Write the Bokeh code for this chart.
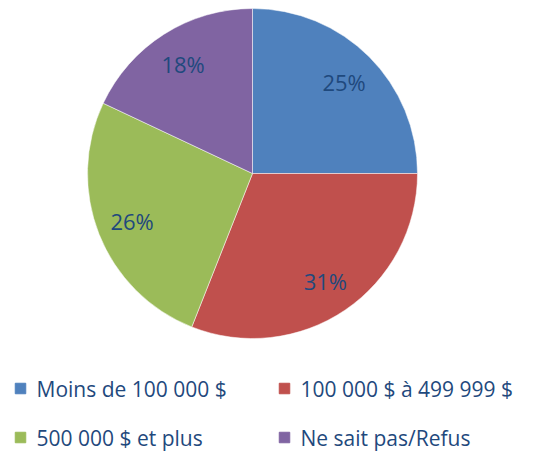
import math
from bokeh.plotting import figure
from bokeh.models import Range1d, ColumnDataSource
from bokeh.core.properties import value
from bokeh.embed import file_html
from bokeh.resources import INLINE

categories = ["Moins de 100 000 $", "100 000 $ à 499 999 $", "500 000 $ et plus", "Ne sait pas/Refus"]
shares = [25, 31, 26, 18]
labels = ["25%", "31%", "26%", "18%"]
colors = ["#4F81BD", "#C0504D", "#9BBB59", "#8064A2"]

W, H = 536, 452
p = figure(width=W, height=H, output_backend="svg", toolbar_location=None,
           x_range=Range1d(0, W), y_range=Range1d(0, H), min_border=0)
p.axis.visible = False
p.grid.visible = False
p.outline_line_color = None
p.background_fill_color = "white"
p.border_fill_color = "white"

cx, cy, R = 252, H - 173, 165
total = sum(shares)
starts, ends, lx, ly = [], [], [], []
cum = 0
for s in shares:
    a0 = math.pi / 2 - 2 * math.pi * (cum + s) / total
    a1 = math.pi / 2 - 2 * math.pi * cum / total
    starts.append(a0)
    ends.append(a1)
    mid = (a0 + a1) / 2
    lx.append(cx + 0.785 * R * math.cos(mid))
    ly.append(cy + 0.785 * R * math.sin(mid))
    cum += s

src = ColumnDataSource(dict(start=starts, end=ends, color=colors, lx=lx, ly=ly, label=labels))
p.wedge(x=cx, y=cy, radius=R, start_angle="start", end_angle="end", color="color",
        line_color="white", line_width=0.5, source=src)
p.text(x="lx", y="ly", text="label", source=src, text_align="center", text_baseline="middle",
       text_font=value("Open Sans"), text_font_size="22px", text_color="#1F497D")

# legend
leg_x = [15, 279, 15, 279]
leg_y = [H - 388, H - 388, H - 437, H - 437]
lsrc = ColumnDataSource(dict(x=[x + 5 for x in leg_x], y=leg_y,
                             tx=[x + 21 for x in leg_x],
                             color=colors, cat=categories))
p.rect(x="x", y="y", width=10.5, height=10.5, color="color", source=lsrc)
p.text(x="tx", y="y", text="cat", source=lsrc, text_align="left", text_baseline="middle",
       text_font=value("Open Sans"), text_font_size="21px", text_color="#1F497D")

open("out.html", "w").write(file_html(p, INLINE))
